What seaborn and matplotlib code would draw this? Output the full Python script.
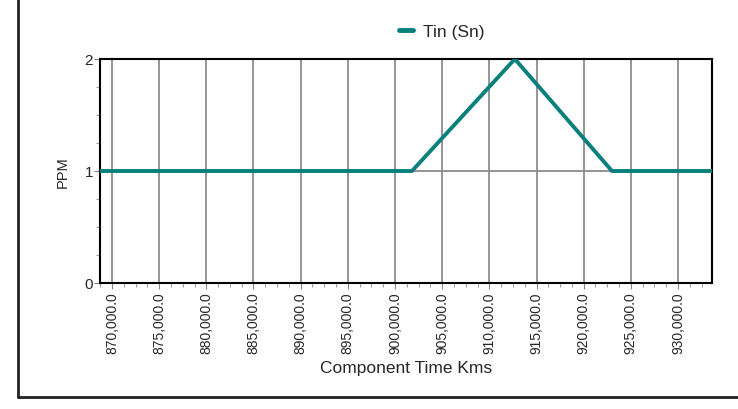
import numpy as np
import pandas as pd
import matplotlib
matplotlib.use('Agg')
import matplotlib.pyplot as plt
import seaborn as sns
from matplotlib.ticker import MultipleLocator, FuncFormatter
from matplotlib.lines import Line2D

# component time (kms) and tin readings
kms = [868700, 875000, 885000, 895000, 901800, 912700, 923000, 928000, 933600]
tin_ppm = [1, 1, 1, 1, 1, 2, 1, 1, 1]

df = pd.DataFrame({'Component Time Kms': kms, 'Tin (Sn)': tin_ppm})

sns.set_style('white')
plt.rcParams['font.family'] = ['Liberation Sans', 'DejaVu Sans']

fig = plt.figure(figsize=(7.38, 4.10), dpi=100)
ax = fig.add_axes([100/738, 1-284/410, 612/738, 224/410])

sns.lineplot(data=df, x='Component Time Kms', y='Tin (Sn)', ax=ax, color='#0a807c',
             linewidth=2.8, label='Tin (Sn)', zorder=3)

ax.set_xlim(868730, 933600)
ax.set_ylim(0, 2)
ax.xaxis.set_major_locator(MultipleLocator(5000))
ax.xaxis.set_minor_locator(MultipleLocator(1250))
ax.yaxis.set_major_locator(MultipleLocator(1))
ax.yaxis.set_minor_locator(MultipleLocator(0.25))
ax.xaxis.set_major_formatter(FuncFormatter(lambda v, p: f'{v:,.1f}'))
ax.grid(True, which='major', color='#8c8c8c', linewidth=1.3)
ax.set_axisbelow(True)
ax.tick_params(axis='x', which='major', labelsize=10, rotation=90, length=4, color='#888888', pad=2)
ax.tick_params(axis='y', which='major', labelsize=11, length=4, color='#888888', pad=1)
ax.tick_params(which='minor', length=3, color='#888888', bottom=True, left=True)
ax.tick_params(axis='x', which='major', bottom=True)
ax.tick_params(axis='y', which='major', left=True)
for s in ax.spines.values():
    s.set_color('black')
    s.set_linewidth(1.5)

ax.set_xlabel('Component Time Kms', fontsize=12.5, labelpad=5)
ax.set_ylabel('PPM', fontsize=10.5, labelpad=11)

leg = ax.legend(loc='center', bbox_to_anchor=(442/738, 1-32/410), bbox_transform=fig.transFigure,
                frameon=False, fontsize=12.5, handlelength=0.8, handletextpad=0.6)
for h in leg.get_lines():
    h.set_linewidth(3.5)

# outer frame lines
fig.add_artist(Line2D([18/738, 18/738], [1, 1-398/410], color='#222222', linewidth=2))
fig.add_artist(Line2D([18/738, 1], [1-398/410, 1-398/410], color='#222222', linewidth=2))

fig.savefig('out.png', dpi=100)
